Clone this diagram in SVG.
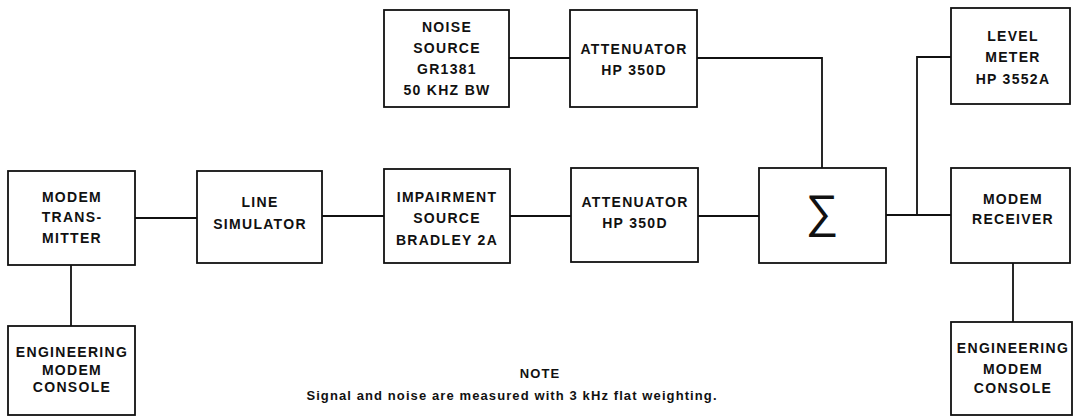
<svg xmlns="http://www.w3.org/2000/svg" width="1075" height="418" viewBox="0 0 1075 418">
<style>
rect{fill:#fff;stroke:#111;stroke-width:1.8}
rect.bg{stroke:none}
.c{fill:none;stroke:#111;stroke-width:1.8}
text{font-family:"Liberation Sans",Arial,sans-serif;font-weight:bold;font-size:14px;letter-spacing:1.3px;text-anchor:middle;fill:#111}
.n{font-size:13px;letter-spacing:1.1px}
.s{font-family:"DejaVu Sans",sans-serif;font-weight:200;font-size:46px;letter-spacing:0}
</style>
<rect class="bg" width="1075" height="418"/>
<g id="connectors">
<path class="c" d="M135 218H197M322 216H384M510 216H571M698 216H759M886 215H951M917 215V57H951M509 58H570M697 58H822V168M71 265V326M1013 263V322"/>
</g>
<g id="tx"><rect x="8" y="171" width="127" height="94"/><text x="72" y="202">MODEM</text><text x="72" y="222">TRANS-</text><text x="72" y="243">MITTER</text></g>
<g id="line"><rect x="197" y="171" width="125" height="92"/><text x="260" y="207">LINE</text><text x="260" y="229">SIMULATOR</text></g>
<g id="eng1"><rect x="8" y="326" width="127" height="89"/><text x="72" y="357">ENGINEERING</text><text x="72" y="375">MODEM</text><text x="72" y="392">CONSOLE</text></g>
<g id="noise"><rect x="384" y="10" width="125" height="97"/><text x="447" y="32">NOISE</text><text x="447" y="53">SOURCE</text><text x="447" y="74">GR1381</text><text x="447" y="95">50 KHZ BW</text></g>
<g id="att1"><rect x="570" y="10" width="127" height="97"/><text x="634" y="54">ATTENUATOR</text><text x="634" y="75">HP 350D</text></g>
<g id="imp"><rect x="384" y="169" width="126" height="94"/><text x="447" y="202">IMPAIRMENT</text><text x="447" y="223">SOURCE</text><text x="447" y="245">BRADLEY 2A</text></g>
<g id="att2"><rect x="571" y="168" width="127" height="94"/><text x="635" y="207">ATTENUATOR</text><text x="635" y="228">HP 350D</text></g>
<g id="sum"><rect x="759" y="168" width="127" height="95"/><text class="s" x="822" y="227">∑</text></g>
<g id="level"><rect x="951" y="8" width="119" height="96"/><text x="1013" y="41">LEVEL</text><text x="1013" y="62">METER</text><text x="1013" y="84">HP 3552A</text></g>
<g id="rx"><rect x="951" y="168" width="119" height="95"/><text x="1013" y="204">MODEM</text><text x="1013" y="224">RECEIVER</text></g>
<g id="eng2"><rect x="951" y="322" width="121" height="93"/><text x="1013" y="353">ENGINEERING</text><text x="1013" y="374">MODEM</text><text x="1013" y="393">CONSOLE</text></g>
<g id="note"><text class="n" x="540" y="378">NOTE</text><text class="n" x="512" y="400">Signal and noise are measured with 3 kHz flat weighting.</text></g>
</svg>
